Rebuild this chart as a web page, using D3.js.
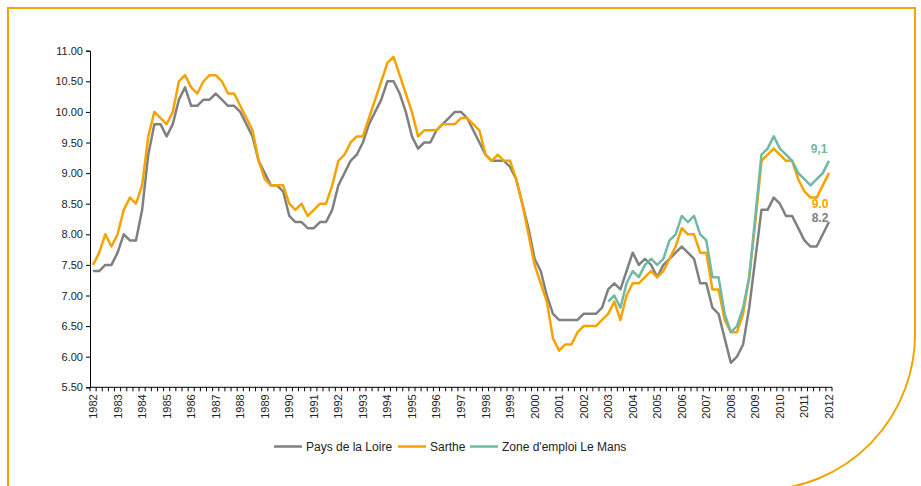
<!DOCTYPE html>
<html>
<head>
<meta charset="utf-8">
<script src="https://cdn.jsdelivr.net/npm/d3@7"></script>
<style>
  body { margin: 0; background: #fff; }
  text { font-family: "Liberation Sans", Arial, sans-serif; }
</style>
</head>
<body>
<div id="chart"></div>
<script>
// quarters 1982T1 .. 2012T1
var years = d3.range(1982, 2013)
var quarters = []
years.forEach(function (y) {
  for (var q = 1; q <= 4; q++) {
    if (y == 2012 && q > 1) break;
    quarters.push(y + "T" + q)
  }
})

var yTicks = [5.5, 6, 6.5, 7, 7.5, 8, 8.5, 9, 9.5, 10, 10.5, 11]

var paysLoire = [7.4, 7.4, 7.5, 7.5, 7.7, 8.0, 7.9, 7.9, 8.4, 9.3, 9.8, 9.8, 9.6, 9.8, 10.2, 10.4,
  10.1, 10.1, 10.2, 10.2, 10.3, 10.2, 10.1, 10.1, 10.0, 9.8, 9.6, 9.2, 9.0, 8.8, 8.8, 8.7,
  8.3, 8.2, 8.2, 8.1, 8.1, 8.2, 8.2, 8.4, 8.8, 9.0, 9.2, 9.3, 9.5, 9.8, 10.0, 10.2,
  10.5, 10.5, 10.3, 10.0, 9.6, 9.4, 9.5, 9.5, 9.7, 9.8, 9.9, 10.0, 10.0, 9.9, 9.7, 9.5,
  9.3, 9.2, 9.2, 9.2, 9.1, 8.9, 8.5, 8.1, 7.6, 7.4, 7.0, 6.7, 6.6, 6.6, 6.6, 6.6,
  6.7, 6.7, 6.7, 6.8, 7.1, 7.2, 7.1, 7.4, 7.7, 7.5, 7.6, 7.5, 7.3, 7.5, 7.6, 7.7,
  7.8, 7.7, 7.6, 7.2, 7.2, 6.8, 6.7, 6.3, 5.9, 6.0, 6.2, 6.8, 7.6, 8.4, 8.4, 8.6,
  8.5, 8.3, 8.3, 8.1, 7.9, 7.8, 7.8, 8.0, 8.2]

var sarthe = [7.5, 7.7, 8.0, 7.8, 8.0, 8.4, 8.6, 8.5, 8.8, 9.6, 10.0, 9.9, 9.8, 10.0, 10.5, 10.6,
  10.4, 10.3, 10.5, 10.6, 10.6, 10.5, 10.3, 10.3, 10.1, 9.9, 9.7, 9.2, 8.9, 8.8, 8.8, 8.8,
  8.5, 8.4, 8.5, 8.3, 8.4, 8.5, 8.5, 8.8, 9.2, 9.3, 9.5, 9.6, 9.6, 9.9, 10.2, 10.5,
  10.8, 10.9, 10.6, 10.3, 10.0, 9.6, 9.7, 9.7, 9.7, 9.8, 9.8, 9.8, 9.9, 9.9, 9.8, 9.7,
  9.3, 9.2, 9.3, 9.2, 9.2, 8.9, 8.5, 8.0, 7.5, 7.2, 6.9, 6.3, 6.1, 6.2, 6.2, 6.4,
  6.5, 6.5, 6.5, 6.6, 6.7, 6.9, 6.6, 7.0, 7.2, 7.2, 7.3, 7.4, 7.3, 7.4, 7.6, 7.8,
  8.1, 8.0, 8.0, 7.7, 7.7, 7.1, 7.1, 6.6, 6.4, 6.4, 6.7, 7.3, 8.2, 9.2, 9.3, 9.4,
  9.3, 9.2, 9.2, 8.9, 8.7, 8.6, 8.6, 8.8, 9.0]

// zone d'emploi: from 2003T1 only
var leMans = d3.range(84).map(function () { return null }).concat([
  6.9, 7.0, 6.8, 7.2, 7.4, 7.3, 7.5, 7.6, 7.5, 7.6, 7.9, 8.0,
  8.3, 8.2, 8.3, 8.0, 7.9, 7.3, 7.3, 6.7, 6.4, 6.5, 6.8, 7.3, 8.3, 9.3, 9.4, 9.6,
  9.4, 9.3, 9.2, 9.0, 8.9, 8.8, 8.9, 9.0, 9.2])

var seriesNames = ["Pays de la Loire", "Sarthe", "Zone d'emploi Le Mans"]
var seriesColors = ["#808080", "#F5A300", "#6FB9A6"]
var endLabels = ["8.2", "9.0", "9,1"]

var width = 921, height = 486

var svg = d3.select("#chart")
  .append("svg")
  .attr("width", width)
  .attr("height", height)

// frame
svg.append("path")
  .attr("d", "M8,490 L8,8 L915,8 L915,330 A155,156 0 0 1 760,490")
  .attr("fill", "none")
  .attr("stroke", "#F5A300")
  .attr("stroke-width", 2)

var x = d3.scalePoint()
  .domain(quarters)
  .range([90, 832])
  .padding(0.5)

var y = d3.scaleLinear()
  .domain([5.5, 11])
  .range([387.3, 50.7])

// y axis
var yAxis = svg.append("g")
  .attr("transform", "translate(90,0)")
  .call(d3.axisLeft(y).tickValues(yTicks).tickFormat(d3.format(".2f")).tickSize(4).tickPadding(3))
yAxis.select(".domain").attr("stroke", "#000")
yAxis.selectAll("text").attr("font-size", 11).attr("fill", "#222")
  .attr("font-family", "'Liberation Sans', Arial, sans-serif")

// x axis: small ticks between categories, year labels rotated
var step = x.step()
var xg = svg.append("g")
xg.append("line")
  .attr("x1", 90).attr("x2", 832)
  .attr("y1", y(5.5)).attr("y2", y(5.5))
  .attr("stroke", "#000")
xg.selectAll(".qt")
  .data(quarters.concat(["end"]))
  .enter()
  .append("line")
  .attr("x1", function (d, i) { return 90 + i * step })
  .attr("x2", function (d, i) { return 90 + i * step })
  .attr("y1", y(5.5))
  .attr("y2", y(5.5) + 4)
  .attr("stroke", "#000")
xg.selectAll(".yl")
  .data(years)
  .enter()
  .append("text")
  .attr("transform", function (d) {
    return "translate(" + (x(d + "T1") + 4) + "," + (y(5.5) + 7) + ") rotate(-90)"
  })
  .attr("text-anchor", "end")
  .attr("font-size", 11)
  .attr("fill", "#222")
  .text(function (d) { return d })

// lines
var allSeries = [paysLoire, sarthe, leMans]
var line = d3.line()
  .defined(function (d) { return d != null })
  .x(function (d, i) { return x(quarters[i]) })
  .y(function (d) { return y(d) })

allSeries.forEach(function (s, k) {
  svg.append("path")
    .datum(s)
    .attr("d", line)
    .attr("fill", "none")
    .attr("stroke", seriesColors[k])
    .attr("stroke-width", 2.5)
    .attr("stroke-linejoin", "round")
})

// end value labels
var labelPos = [[820, 222], [820, 208], [819, 153]]
endLabels.forEach(function (t, k) {
  svg.append("text")
    .attr("x", labelPos[k][0])
    .attr("y", labelPos[k][1])
    .attr("text-anchor", "middle")
    .attr("font-size", 12)
    .attr("font-weight", "bold")
    .attr("fill", seriesColors[k])
    .text(t)
})

// legend
var legendX = [274, 398, 470]
seriesNames.forEach(function (n, k) {
  var g = svg.append("g").attr("transform", "translate(" + legendX[k] + ",446.5)")
  g.append("line")
    .attr("x1", 0).attr("x2", 28)
    .attr("stroke", seriesColors[k])
    .attr("stroke-width", 2.5)
  g.append("text")
    .attr("x", 32)
    .attr("y", 4.5)
    .attr("font-size", 12)
    .attr("fill", "#222")
    .text(n)
})
</script>
</body>
</html>
